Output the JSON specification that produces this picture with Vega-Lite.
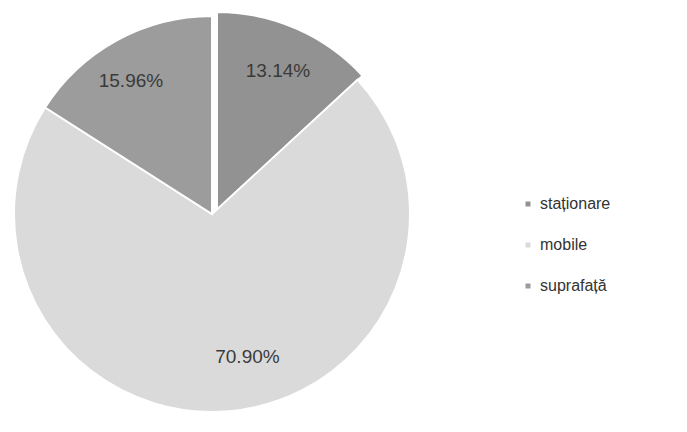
{
  "$schema": "https://vega.github.io/schema/vega-lite/v6.json",
  "width": 424,
  "height": 428,
  "padding": {"left": 0, "top": 0, "right": 0, "bottom": 0},
  "background": "white",
  "view": {"stroke": null},
  "data": {
    "values": [
      {"cat": "staționare", "pct": 13.14, "ord": 1, "label": "13.14%"},
      {"cat": "mobile", "pct": 70.90, "ord": 2, "label": "70.90%"},
      {"cat": "suprafață", "pct": 15.96, "ord": 3, "label": "15.96%"}
    ]
  },
  "encoding": {
    "theta": {"field": "pct", "type": "quantitative", "stack": true},
    "order": {"field": "ord", "type": "quantitative"}
  },
  "layer": [
    {
      "mark": {
        "type": "arc",
        "outerRadius": 198,
        "stroke": "white",
        "strokeWidth": 2,
        "xOffset": {"expr": "datum.ord === 1 ? 5 : 0"},
        "yOffset": {"expr": "datum.ord === 1 ? -4 : 0"}
      },
      "encoding": {
        "color": {
          "field": "cat",
          "type": "nominal",
          "scale": {"domain": ["staționare", "mobile", "suprafață"], "range": ["#929292", "#dadada", "#9c9c9c"]},
          "legend": {
            "title": null,
            "orient": "none",
            "legendX": 520,
            "legendY": 196,
            "labelFontSize": 16,
            "labelFont": "Liberation Sans",
            "labelColor": "#333333",
            "symbolType": "square",
            "symbolSize": 25,
            "symbolStrokeWidth": 0,
            "rowPadding": 25,
            "labelOffset": 4
          }
        }
      }
    },
    {
      "mark": {
        "type": "text",
        "radius": 152,
        "fontSize": 19,
        "font": "Liberation Sans",
        "color": "#3a3a3a",
        "xOffset": {"expr": "datum.ord === 1 ? 5 : 0"},
        "yOffset": {"expr": "datum.ord === 1 ? -4 : 0"},
        "dx": {"expr": "datum.ord === 2 ? 22 : (datum.ord === 3 ? -8 : 0)"},
        "dy": {"expr": "datum.ord === 2 ? -8 : 0"}
      },
      "encoding": {
        "text": {"field": "label", "type": "nominal"}
      }
    }
  ]
}
